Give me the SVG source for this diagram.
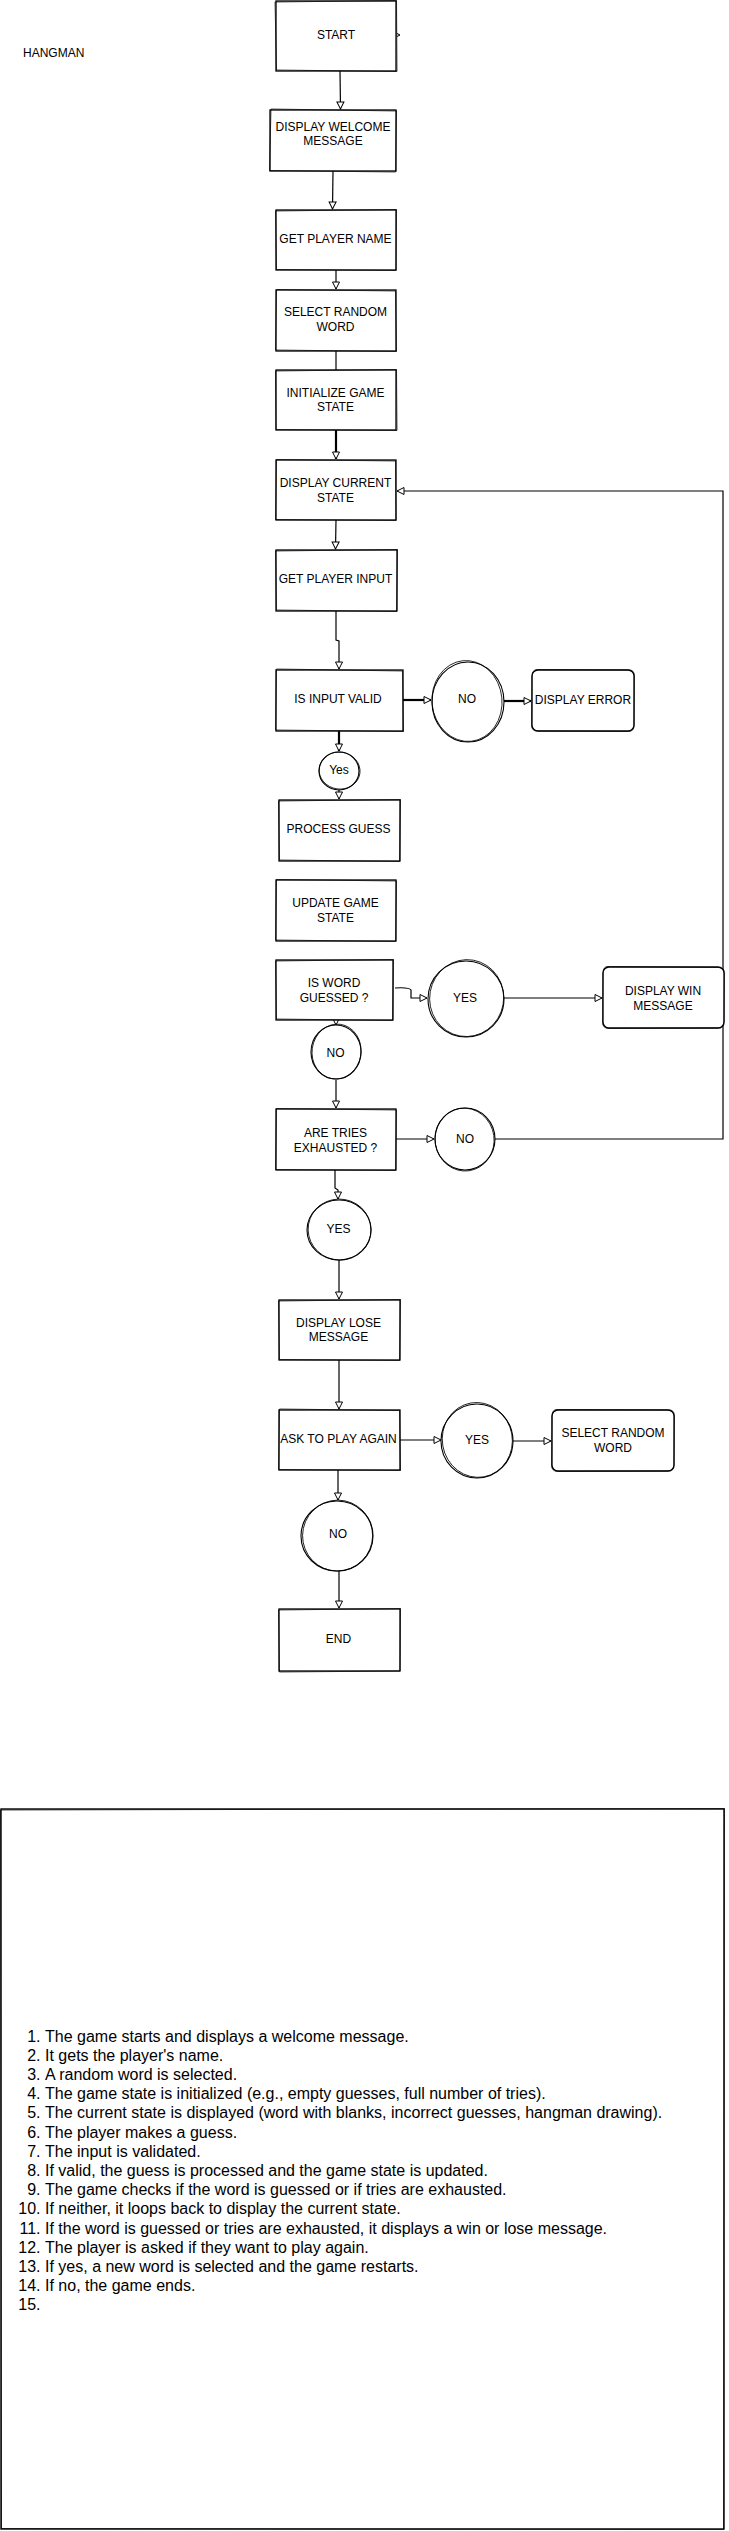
<svg xmlns="http://www.w3.org/2000/svg" width="729" height="2531" viewBox="0 0 729 2531">
<defs>
<marker id="arr" markerUnits="userSpaceOnUse" markerWidth="10" markerHeight="10" refX="8" refY="4.5" orient="auto">
<path d="M1,1 L8,4.5 L1,8 Z" fill="#fff" stroke="#000" stroke-width="1"/>
</marker>
</defs>
<style>
.bx{fill:#fff;stroke:#000;stroke-width:1.3}
.jt{fill:none;stroke:#000;stroke-width:0.7}
.ci{fill:#fff;stroke:#000;stroke-width:1.1}
.cj{fill:none;stroke:#000;stroke-width:0.8}
.t{font-family:"Liberation Sans",Arial,Helvetica,sans-serif;font-size:12px;fill:#000;text-anchor:middle}
.tl{font-family:"Liberation Sans",Arial,Helvetica,sans-serif;font-size:12px;fill:#000}
.ln{fill:none;stroke:#000;stroke-width:1.2;marker-end:url(#arr)}
.lt{fill:none;stroke:#000;stroke-width:2.2;marker-end:url(#arr)}
.nt{font-family:"Liberation Sans",Arial,Helvetica,sans-serif;font-size:16px;fill:#000}
.nn{font-family:"Liberation Sans",Arial,Helvetica,sans-serif;font-size:16px;fill:#000;text-anchor:end}
</style>
<rect width="729" height="2531" fill="#fff"/>

<g id="title"><text class="tl" x="23" y="57">HANGMAN</text></g>

<g id="connectors">
<path class="ln" d="M340,71 L340.5,109"/>
<path class="ln" d="M333,171 L332.5,209"/>
<path class="ln" d="M336,270 L336,289"/>
<path fill="none" stroke="#000" stroke-width="1.2" d="M336,351 L336,370"/>
<path class="lt" d="M336,430 L336,459"/>
<path class="ln" d="M336,520 L335.5,549"/>
<path class="ln" d="M336,611 L336,640 L339,641 L339,669"/>
<path class="lt" d="M403,700 L431,700"/>
<path class="lt" d="M504,701 L531,701"/>
<path class="lt" d="M339,731 L339,751"/>
<path class="ln" d="M339,790 L339,799"/>
<path class="ln" d="M395,988 Q409,987 411,990 L411,998 L427,998"/>
<path class="ln" d="M504,998 L602,998"/>
<path class="ln" d="M336,1020 L336,1025"/>
<path class="ln" d="M336,1080 L336,1108"/>
<path class="ln" d="M396,1139 L434,1139"/>
<path class="ln" d="M495,1139 L723,1139 L723,491 L397,491"/>
<path class="ln" d="M335,1170 L335,1188 L338,1190 L338,1199"/>
<path class="ln" d="M339,1260 L339,1299"/>
<path class="ln" d="M339,1360 L339,1409"/>
<path class="ln" d="M400,1440 L441,1440"/>
<path class="ln" d="M513,1441 L551,1441"/>
<path class="ln" d="M338,1470 L338,1500"/>
<path class="ln" d="M339,1571 L339,1608"/>
<path fill="none" stroke="#000" stroke-width="1" d="M397,33.5 L400,35 L397,36.5"/>
</g>

<g id="start">
<rect class="bx" x="276" y="1" width="120" height="70"/>
<path class="jt" d="M275,2 L396.5,0.5 L397,71.5 L276.5,70 Z"/>
<text class="t" x="336" y="39">START</text>
</g>

<g id="welcome">
<rect class="bx" x="270" y="110" width="126" height="61"/>
<path class="jt" d="M271,109 L396.5,111 L395.5,172 L269.5,170.5 Z"/>
<text class="t" x="333"><tspan x="333" y="130.5">DISPLAY WELCOME</tspan><tspan x="333" y="144.5">MESSAGE</tspan></text>
</g>

<g id="get-name">
<rect class="bx" x="276" y="210" width="120" height="60"/>
<path class="jt" d="M275.5,211 L396.5,209.5 L396,270.5 L276.5,269.5 Z"/>
<text class="t" x="335.5" y="243.3">GET PLAYER NAME</text>
</g>

<g id="select-word">
<rect class="bx" x="276" y="290" width="120" height="61"/>
<path class="jt" d="M276.5,289.5 L395.5,291 L396.5,351.5 L275.5,350 Z"/>
<text class="t"><tspan x="335.5" y="316.3">SELECT RANDOM</tspan><tspan x="335.5" y="331.3">WORD</tspan></text>
</g>

<g id="init-state">
<rect class="bx" x="276" y="370" width="120" height="60"/>
<path class="jt" d="M275.5,371 L396.5,369.5 L397,430.5 L276,429.5 Z"/>
<text class="t"><tspan x="335.5" y="397.3">INITIALIZE GAME</tspan><tspan x="335.5" y="411.3">STATE</tspan></text>
</g>

<g id="display-state">
<rect class="bx" x="276" y="460" width="120" height="60"/>
<path class="jt" d="M276.5,459.5 L395.5,461 L396,520.5 L275.5,519.5 Z"/>
<text class="t"><tspan x="335.5" y="487.3">DISPLAY CURRENT</tspan><tspan x="335.5" y="502.3">STATE</tspan></text>
</g>

<g id="get-input">
<rect class="bx" x="276" y="550" width="121" height="61"/>
<path class="jt" d="M275.5,551 L397.5,549.5 L396.5,611.5 L276.5,610 Z"/>
<text class="t" x="335.5" y="583.3">GET PLAYER INPUT</text>
</g>

<g id="input-valid">
<rect class="bx" x="276" y="670" width="127" height="61"/>
<path class="jt" d="M276.5,669 L402.5,671 L403.5,731.5 L275.5,730 Z"/>
<text class="t" x="338" y="703.3">IS INPUT VALID</text>
</g>

<g id="no-invalid">
<ellipse class="ci" cx="468" cy="702" rx="36" ry="40"/>
<ellipse class="cj" cx="467" cy="701" rx="35" ry="40.5" transform="rotate(-6 467 701)"/>
<text class="t" x="467" y="703.3">NO</text>
</g>

<g id="display-error">
<rect class="bx" x="532" y="670" width="102" height="61" rx="6"/>
<path class="jt" d="M537,669.5 L629,670 Q634.5,670 634.5,676 L634,726 Q634,731.5 628,731.5 L537,731 Q531.5,731 531.5,725 L532,676 Q532,670 537,669.5 Z"/>
<text class="t" x="583" y="704.3">DISPLAY ERROR</text>
</g>

<g id="yes-valid">
<ellipse class="ci" cx="339" cy="771" rx="20" ry="19"/>
<ellipse class="cj" cx="339.5" cy="770.5" rx="20.5" ry="18.5" transform="rotate(8 339 771)"/>
<text class="t" x="339" y="774.3">Yes</text>
</g>

<g id="process-guess">
<rect class="bx" x="279" y="800" width="121" height="61"/>
<path class="jt" d="M278.5,801 L400.5,799.5 L399.5,861.5 L279.5,860 Z"/>
<text class="t" x="338.5" y="833.3">PROCESS GUESS</text>
</g>

<g id="update-state">
<rect class="bx" x="276" y="880" width="120" height="61"/>
<path class="jt" d="M276.5,879.5 L396.5,881 L395.5,941.5 L275.5,940 Z"/>
<text class="t"><tspan x="335.5" y="907.3">UPDATE GAME</tspan><tspan x="335.5" y="922.3">STATE</tspan></text>
</g>

<g id="word-guessed">
<rect class="bx" x="276" y="960" width="117" height="60"/>
<path class="jt" d="M275.5,961 L393.5,959.5 L392.5,1020.5 L276.5,1019 Z"/>
<text class="t"><tspan x="334" y="987.3">IS WORD</tspan><tspan x="334" y="1002.3">GUESSED ?</tspan></text>
</g>

<g id="yes-guessed">
<ellipse class="ci" cx="466" cy="999" rx="38" ry="38"/>
<ellipse class="cj" cx="466.5" cy="998" rx="37" ry="38.5" transform="rotate(10 466 999)"/>
<text class="t" x="465" y="1002.3">YES</text>
</g>

<g id="display-win">
<rect class="bx" x="603" y="967" width="121" height="61" rx="6"/>
<path class="jt" d="M608,966.5 L719,967.5 Q724.5,967.5 724.5,973 L724,1022 Q724,1028.5 718,1028 L609,1028.5 Q602.5,1028.5 602.5,1022 L603,973 Q603,966.5 608,966.5 Z"/>
<text class="t"><tspan x="663" y="995.3">DISPLAY WIN</tspan><tspan x="663" y="1010.3">MESSAGE</tspan></text>
</g>

<g id="no-guessed">
<ellipse class="ci" cx="336" cy="1052" rx="25" ry="27"/>
<ellipse class="cj" cx="336.5" cy="1051.5" rx="24.5" ry="27.5" transform="rotate(8 336 1052)"/>
<text class="t" x="335.5" y="1057.3">NO</text>
</g>

<g id="tries-exhausted">
<rect class="bx" x="276" y="1109" width="120" height="61"/>
<path class="jt" d="M276.5,1108.5 L396.5,1110 L395.5,1170.5 L275.5,1169.5 Z"/>
<text class="t"><tspan x="335.5" y="1137.3">ARE TRIES</tspan><tspan x="335.5" y="1152.3">EXHAUSTED ?</tspan></text>
</g>

<g id="no-tries">
<ellipse class="ci" cx="465" cy="1139" rx="30" ry="31"/>
<ellipse class="cj" cx="464.5" cy="1139.5" rx="29.5" ry="31.5" transform="rotate(-8 465 1139)"/>
<text class="t" x="465" y="1143.3">NO</text>
</g>

<g id="yes-tries">
<ellipse class="ci" cx="339" cy="1230" rx="32" ry="30"/>
<ellipse class="cj" cx="339.5" cy="1229.5" rx="31.5" ry="30.5" transform="rotate(10 339 1230)"/>
<text class="t" x="338.5" y="1233.3">YES</text>
</g>

<g id="display-lose">
<rect class="bx" x="279" y="1300" width="121" height="60"/>
<path class="jt" d="M278.5,1301 L400.5,1299.5 L399.5,1360.5 L279.5,1359.5 Z"/>
<text class="t"><tspan x="338.5" y="1327.3">DISPLAY LOSE</tspan><tspan x="338.5" y="1341.3">MESSAGE</tspan></text>
</g>

<g id="play-again">
<rect class="bx" x="279" y="1410" width="121" height="60"/>
<path class="jt" d="M279.5,1409 L399.5,1410.5 L400.5,1470.5 L278.5,1469.5 Z"/>
<text class="t" x="338.5" y="1443.3">ASK TO PLAY AGAIN</text>
</g>

<g id="yes-again">
<ellipse class="ci" cx="477" cy="1441" rx="36" ry="37"/>
<ellipse class="cj" cx="477.5" cy="1440" rx="35" ry="37.5" transform="rotate(-10 477 1441)"/>
<text class="t" x="477" y="1444.3">YES</text>
</g>

<g id="select-word-again">
<rect class="bx" x="552" y="1410" width="122" height="61" rx="6"/>
<path class="jt" d="M557,1409.5 L669,1410 Q674.5,1410 674.5,1416 L674,1465 Q674,1471.5 668,1471 L558,1471.5 Q551.5,1471.5 551.5,1465 L552,1416 Q552,1409.5 557,1409.5 Z"/>
<text class="t"><tspan x="613" y="1437.3">SELECT RANDOM</tspan><tspan x="613" y="1452.3">WORD</tspan></text>
</g>

<g id="no-again">
<ellipse class="ci" cx="337" cy="1536" rx="36" ry="35"/>
<ellipse class="cj" cx="337.5" cy="1535.5" rx="35" ry="35.5" transform="rotate(12 337 1536)"/>
<text class="t" x="338" y="1538.3">NO</text>
</g>

<g id="end">
<rect class="bx" x="279" y="1609" width="121" height="62"/>
<path class="jt" d="M278.5,1610 L400.5,1608.5 L400,1671 L279.5,1672 Z"/>
<text class="t" x="338.5" y="1643.3">END</text>
</g>

<g id="notes">
<rect x="1" y="1809" width="723" height="720" fill="#fff" stroke="#000" stroke-width="1.4"/>
<path class="jt" d="M0.5,1810 L724.5,1808.5 L723.5,2529.5 L1.5,2528.5 Z"/>
<text class="nn" x="40.5" y="2041.5">1.</text><text class="nt" x="45" y="2041.5">The game starts and displays a welcome message.</text>
<text class="nn" x="40.5" y="2060.7">2.</text><text class="nt" x="45" y="2060.7">It gets the player's name.</text>
<text class="nn" x="40.5" y="2079.9">3.</text><text class="nt" x="45" y="2079.9">A random word is selected.</text>
<text class="nn" x="40.5" y="2099.1">4.</text><text class="nt" x="45" y="2099.1">The game state is initialized (e.g., empty guesses, full number of tries).</text>
<text class="nn" x="40.5" y="2118.3">5.</text><text class="nt" x="45" y="2118.3">The current state is displayed (word with blanks, incorrect guesses, hangman drawing).</text>
<text class="nn" x="40.5" y="2137.5">6.</text><text class="nt" x="45" y="2137.5">The player makes a guess.</text>
<text class="nn" x="40.5" y="2156.7">7.</text><text class="nt" x="45" y="2156.7">The input is validated.</text>
<text class="nn" x="40.5" y="2175.9">8.</text><text class="nt" x="45" y="2175.9">If valid, the guess is processed and the game state is updated.</text>
<text class="nn" x="40.5" y="2195.1">9.</text><text class="nt" x="45" y="2195.1">The game checks if the word is guessed or if tries are exhausted.</text>
<text class="nn" x="40.5" y="2214.3">10.</text><text class="nt" x="45" y="2214.3">If neither, it loops back to display the current state.</text>
<text class="nn" x="40.5" y="2233.5">11.</text><text class="nt" x="45" y="2233.5">If the word is guessed or tries are exhausted, it displays a win or lose message.</text>
<text class="nn" x="40.5" y="2252.7">12.</text><text class="nt" x="45" y="2252.7">The player is asked if they want to play again.</text>
<text class="nn" x="40.5" y="2271.9">13.</text><text class="nt" x="45" y="2271.9">If yes, a new word is selected and the game restarts.</text>
<text class="nn" x="40.5" y="2291.1">14.</text><text class="nt" x="45" y="2291.1">If no, the game ends.</text>
<text class="nn" x="40.5" y="2310.3">15.</text>
</g>
</svg>
